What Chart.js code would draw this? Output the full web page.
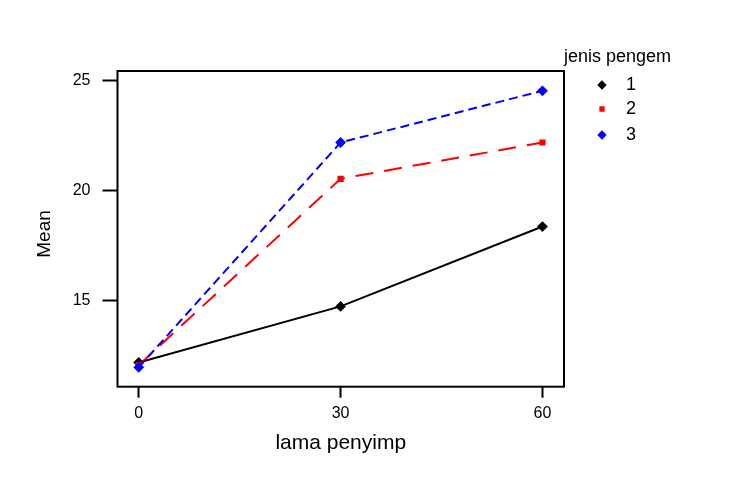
<!DOCTYPE html>
<html>
<head>
<meta charset="utf-8">
<script src="https://cdn.jsdelivr.net/npm/chart.js@4.4.0/dist/chart.umd.min.js"></script>
<style>
  html, body { margin: 0; padding: 0; background: #fff; }
  #wrap { width: 744px; height: 487px; position: relative; }
</style>
</head>
<body>
<div id="wrap"><canvas id="myChart" width="744" height="487"></canvas></div>
<script>
// lama penyimpanan (x) and group means per jenis pengemas
const lamaPenyimp = [0, 30, 60];
const jenis1 = [12.2, 14.75, 18.38];
const jenis2 = [12.08, 20.55, 22.2];
const jenis3 = [11.98, 22.2, 24.55];
const xTicks = [0, 30, 60];
const yTicks = [15, 20, 25];

const FONT = 'Arial, "Liberation Sans", sans-serif';

function toPoints(ys) {
    return lamaPenyimp.map((x, i) => ({ x: x, y: ys[i] }));
}

// box round the plot area, the y title and the legend on the right
const boxAndLegend = {
    id: 'boxAndLegend',
    afterDatasetsDraw(chart) {
        const ctx = chart.ctx;
        const a = chart.chartArea;
        ctx.save();
        ctx.strokeStyle = '#000';
        ctx.lineWidth = 2;
        ctx.strokeRect(a.left, a.top, a.right - a.left, a.bottom - a.top);

        // y axis title, sits a little below the middle of the box
        ctx.save();
        ctx.translate(45, 234);
        ctx.rotate(-Math.PI / 2);
        ctx.fillStyle = '#000';
        ctx.font = '19px ' + FONT;
        ctx.textAlign = 'center';
        ctx.textBaseline = 'middle';
        ctx.fillText('Mean', 0, 0);
        ctx.restore();

        ctx.fillStyle = '#000';
        ctx.font = '18px ' + FONT;
        ctx.textBaseline = 'middle';
        ctx.textAlign = 'left';
        ctx.fillText('jenis pengem', 564, 57);

        const rows = [85, 109, 135];
        chart.data.datasets.forEach((ds, i) => {
            ctx.fillStyle = ds.pointBackgroundColor;
            ctx.strokeStyle = ds.pointBorderColor;
            Chart.helpers.drawPoint(ctx, {
                pointStyle: ds.pointStyle,
                radius: ds.pointRadius - 0.7,
                rotation: 0,
                borderWidth: 1
            }, 602, rows[i]);
            ctx.fillStyle = '#000';
            ctx.fillText(ds.label, 626, rows[i]);
        });
        ctx.restore();
    }
};

const ctx = document.getElementById('myChart').getContext('2d');
new Chart(ctx, {
    type: 'line',
    data: {
        datasets: [
            {
                label: '1',
                data: toPoints(jenis1),
                borderColor: '#000',
                borderWidth: 2,
                pointStyle: 'rectRot',
                pointRadius: 4,
                pointBackgroundColor: '#000',
                pointBorderColor: '#000',
                order: 3
            },
            {
                label: '2',
                data: toPoints(jenis2),
                borderColor: '#ff0000',
                borderWidth: 2,
                borderDash: [18, 11],
                pointStyle: 'rect',
                pointRadius: 3,
                pointBackgroundColor: '#ff0000',
                pointBorderColor: '#ff0000',
                order: 2
            },
            {
                label: '3',
                data: toPoints(jenis3),
                borderColor: '#0000ff',
                borderWidth: 2,
                borderDash: [9, 5],
                pointStyle: 'rectRot',
                pointRadius: 4,
                pointBackgroundColor: '#0000ff',
                pointBorderColor: '#0000ff',
                order: 1
            }
        ]
    },
    options: {
        responsive: false,
        animation: false,
        layout: { padding: { left: 0, top: 71, right: 180, bottom: 0 } },
        plugins: {
            legend: { display: false },
            tooltip: { enabled: false }
        },
        scales: {
            x: {
                type: 'linear',
                min: -3.15,
                max: 63.2,
                afterFit: (s) => { s.height = 100.3; },
                afterBuildTicks: (s) => { s.ticks = xTicks.map(v => ({ value: v })); },
                border: { display: false },
                grid: {
                    drawOnChartArea: false,
                    drawTicks: true,
                    tickLength: 11,
                    tickWidth: 2,
                    tickColor: '#000'
                },
                ticks: {
                    color: '#000',
                    padding: 6,
                    maxRotation: 0,
                    font: { family: FONT, size: 16 }
                },
                title: {
                    display: true,
                    text: 'lama penyimp',
                    color: '#000',
                    font: { family: FONT, size: 21 },
                    padding: { top: 31, bottom: 31 }
                }
            },
            y: {
                min: 11.1,
                max: 25.45,
                afterFit: (s) => { s.width = 117.5; },
                afterBuildTicks: (s) => { s.ticks = yTicks.map(v => ({ value: v })); },
                border: { display: false },
                grid: {
                    drawOnChartArea: false,
                    drawTicks: true,
                    tickLength: 15,
                    tickWidth: 2,
                    tickColor: '#000'
                },
                ticks: {
                    color: '#000',
                    padding: 12,
                    font: { family: FONT, size: 16 }
                }
            }
        }
    },
    plugins: [boxAndLegend]
});
</script>
</body>
</html>
